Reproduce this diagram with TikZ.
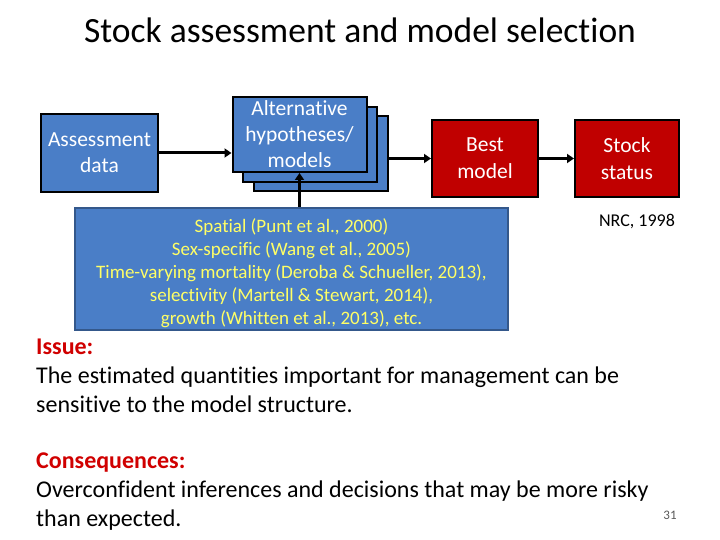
\documentclass[tikz,border=0pt]{standalone}
\usepackage{fontspec}
\setmainfont[Ligatures=NoCommon]{Carlito}
\usetikzlibrary{arrows.meta}
\definecolor{bx}{HTML}{4A7EC7}
\definecolor{rd}{HTML}{C00000}
\definecolor{yl}{HTML}{FFFF66}
\definecolor{isr}{HTML}{D00000}
\begin{document}
\begin{tikzpicture}[x=1pt,y=-1pt,
  blue box/.style={draw=black,line width=2pt,fill=bx,text=white,align=center,font=\fontsize{21.5}{26}\selectfont,inner sep=0},
  red box/.style={draw=black,line width=2pt,fill=rd,text=white,align=center,font=\fontsize{21.5}{27}\selectfont,inner sep=0},
  arr/.style={line width=3pt,-{Triangle[length=7pt,width=9pt]}}]
\useasboundingbox (0,0) rectangle (720,540);
\node[font=\fontsize{35.5}{40}\selectfont] (title) at (360,30) {Stock assessment and model selection};
\node[blue box,minimum width=117pt,minimum height=78pt] (ad) at (99.5,153) {Assessment\\data};
\node[blue box,minimum width=134pt,minimum height=75pt] (b3) at (321,154) {};
\node[blue box,minimum width=134pt,minimum height=75pt] (b2) at (310,144.5) {};
\node[blue box,minimum width=134pt,minimum height=75pt] (b1) at (299.5,134.5) {Alternative\\hypotheses/\\models};
\node[red box,minimum width=106pt,minimum height=77pt] (bm) at (485,158.5) {Best\\model};
\node[red box,minimum width=104pt,minimum height=77pt] (ss) at (627,158.5) {Stock\\status};
\node[draw=bx!70!black,line width=1.5pt,fill=bx,minimum width=433pt,minimum height=122pt,inner sep=0] (ex) at (291.5,269) {};
\node[text=yl,align=center,font=\fontsize{19}{23}\selectfont,inner sep=0] (ext) at (291.5,273) {Spatial (Punt et al., 2000)\\Sex-specific (Wang et al., 2005)\\Time-varying mortality (Deroba \& Schueller, 2013),\\selectivity (Martell \& Stewart, 2014),\\growth (Whitten et al., 2013), etc.};
\node[font=\fontsize{18}{21}\selectfont] (nrc) at (637,222) {NRC, 1998};
\draw[arr] (ad.east) -- (b1.west|-ad.east);
\draw[arr] (b3.east|-bm.west) -- (bm.west);
\draw[arr] (bm.east) -- (ss.west);
\draw[arr] (ex.north-|b1.south) -- (b1.south);
\node[anchor=north west,align=left,font=\fontsize{24}{29}\selectfont,inner sep=0] (issue) at (36,339) {\textcolor{isr}{\textbf{Issue:}}\\The estimated quantities important for management can be\\sensitive to the model structure.};
\node[anchor=north west,align=left,font=\fontsize{24}{29}\selectfont,inner sep=0] (cons) at (36,453) {\textcolor{isr}{\textbf{Consequences:}}\\Overconfident inferences and decisions that may be more risky\\than expected.};
\node[font=\fontsize{13}{15}\selectfont,text=gray!70!black] (pg) at (670,515) {31};
\end{tikzpicture}
\end{document}
